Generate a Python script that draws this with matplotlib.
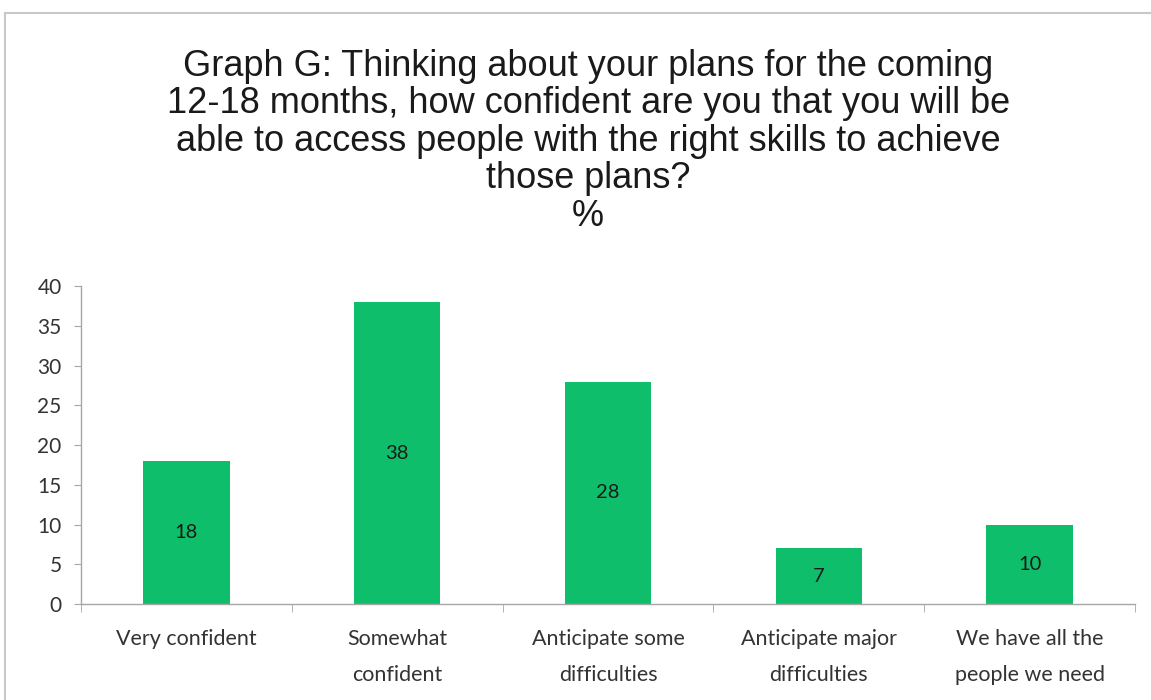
import matplotlib.pyplot as plt
from matplotlib.patches import Rectangle
import numpy as np

# ---------------- DATA ----------------
categories = [
    "Very confident",
    "Somewhat\nconfident",
    "Anticipate some\ndifficulties",
    "Anticipate major\ndifficulties",
    "We have all the\npeople we need",
]
percentages = [18, 38, 28, 7, 10]
y_ticks = [0, 5, 10, 15, 20, 25, 30, 35, 40]

title = ("Graph G: Thinking about your plans for the coming\n"
         "12-18 months, how confident are you that you will be\n"
         "able to access people with the right skills to achieve\n"
         "those plans?\n%")

# ---------------- PLOT ----------------
fig = plt.figure(figsize=(11.51, 7.0), dpi=100)
ax = fig.add_axes([0.0704, 0.137, 0.9157, 0.454])

x = np.arange(len(categories))
bars = ax.bar(x, percentages, width=0.41, color="#0FBE6A", zorder=2)

for b, v in zip(bars, percentages):
    ax.text(b.get_x() + b.get_width() / 2, v / 2, str(v),
            ha="center", va="center", fontsize=14.5, color="#1a1a1a",
            family="Lato")

ax.set_xlim(-0.5, len(categories) - 0.5)
ax.set_ylim(0, 40)
ax.set_yticks(y_ticks)
ax.set_xticks(x)
ax.set_xticklabels(categories, fontsize=15.5, color="#333333",
                   family="Lato", linespacing=2.0)
ax.set_xticks(np.arange(len(categories) + 1) - 0.5, minor=True)

ax.tick_params(axis="x", which="major", length=0, pad=18)
ax.tick_params(axis="x", which="minor", length=6, color="#A6A6A6",
               direction="out")
ax.tick_params(axis="y", length=5, color="#A6A6A6", labelsize=15,
               labelcolor="#333333", pad=9)
for lbl in ax.get_yticklabels():
    lbl.set_family("Lato")

for side in ["top", "right"]:
    ax.spines[side].set_visible(False)
for side in ["left", "bottom"]:
    ax.spines[side].set_color("#A6A6A6")
    ax.spines[side].set_linewidth(1.0)

fig.text(0.511, 0.93, title, ha="center", va="top", fontsize=26,
         family="Liberation Sans", color="#1a1a1a", linespacing=1.09)

# chart frame
fig.patches.append(Rectangle((5 / 1151, -0.05), 1.2, 1 - 13 / 700 + 0.05,
                             transform=fig.transFigure, fill=False,
                             edgecolor="#C8C8C8", linewidth=1.5))

fig.savefig("out.png", dpi=100, facecolor="white")
